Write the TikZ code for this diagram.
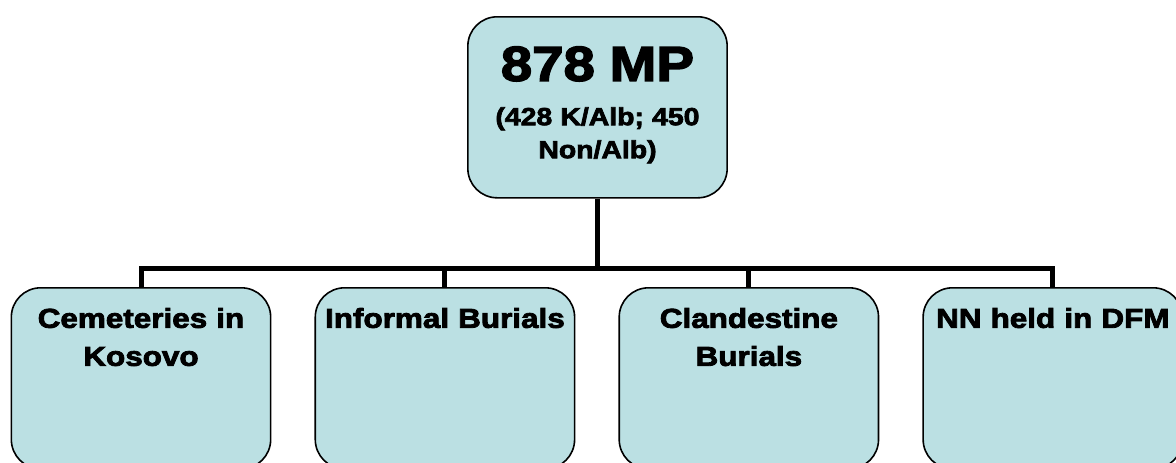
\documentclass[tikz,border=0pt]{standalone}
\usepackage{fontspec}
\newfontfamily\heavyfont[FakeStretch=1.15,FakeBold=3]{Liberation Sans}
\usetikzlibrary{positioning}
\definecolor{boxblue}{RGB}{187,224,227}

\begin{document}
\begin{tikzpicture}[x=0.75pt, y=-0.75pt,
    card/.style = {draw, line width=1.2pt, fill=boxblue, rounded corners=22pt, inner sep=0pt, align=center, text width=194.5pt},
    root/.style = {card, font=\heavyfont\bfseries\fontsize{18.5}{24.75}\selectfont, text height=48pt, text depth=87.75pt},
    leaf/.style = {card, font=\heavyfont\bfseries\fontsize{20.5}{28.5}\selectfont, text height=30pt, text depth=105.75pt},
    link/.style = {line width=3.75pt}]
    \useasboundingbox (0,0) rectangle (1176,462);
    \clip (0,0) rectangle (1176,462);

    \node[root, anchor=north] (mp) at (597.5,16) {{\fontsize{36.75}{40}\selectfont 878\hspace{0.3em}MP}\\[8.5pt](428 K/Alb; 450\\Non/Alb)};
    \node[leaf, anchor=north] (cem) at (141,287) {Cemeteries in\\Kosovo};
    \node[leaf] (inf) [right=32.25pt of cem] {Informal Burials};
    \node[leaf] (cla) [right=32.25pt of inf] {Clandestine\\Burials};
    \node[leaf] (dfm) [right=32.25pt of cla] {NN held in DFM};

    \coordinate (split) at (597.5,268);
    \draw[link] (mp) -- (split);
    \foreach \leafname in {cem,inf,cla,dfm}
        \draw[link] (split) -| (\leafname.north);
\end{tikzpicture}
\end{document}
